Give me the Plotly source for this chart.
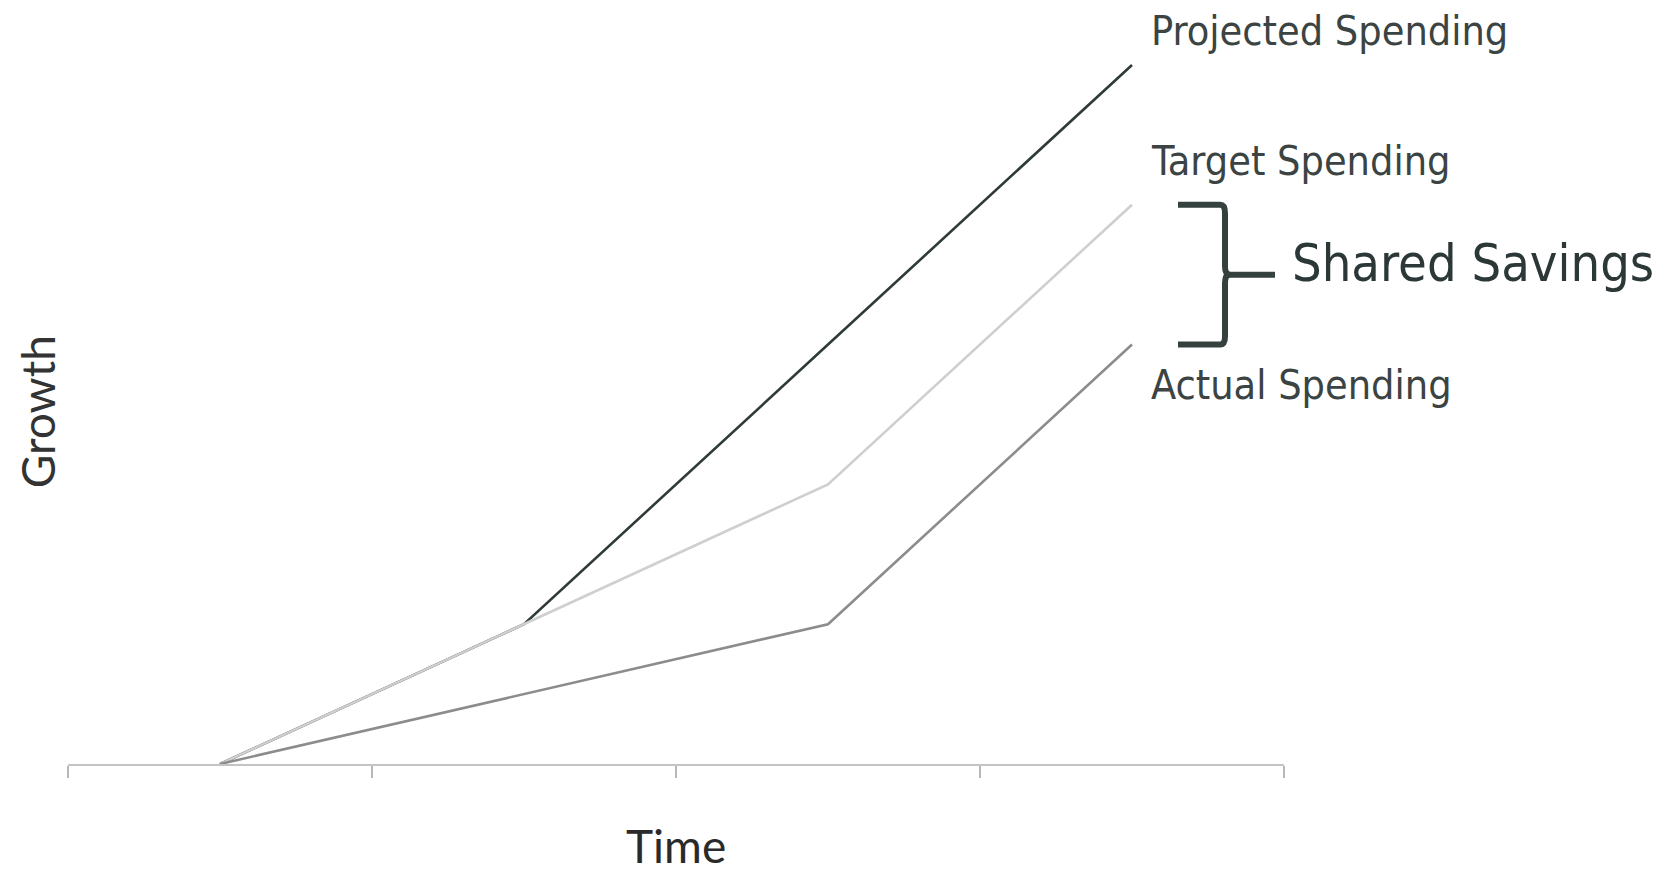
import plotly.graph_objects as go

# Time periods and spending growth for each series
periods = [1, 2, 3, 4]
projected = [0, 2, 6, 10]
target = [0, 2, 4, 8]
actual = [0, 1, 2, 6]

series_names = ["Projected Spending", "Target Spending", "Actual Spending"]
series_colors = ["#2f3b3a", "#cfcfcf", "#8c8c8c"]
label_shift = [34, 44, -40]

W, H = 1679, 874
L_M, R_M, T_M, B_M = 68, 395, 9, 110
Y_MAX = 10.8

LABEL_FONT = "DejaVu Sans Condensed, DejaVu Sans, sans-serif"
AXIS_FONT = "Lato, Open Sans, sans-serif"
TEXT_COLOR = "#3b4443"

fig = go.Figure()
for name, vals, color in zip(series_names, [projected, target, actual], series_colors):
    fig.add_trace(go.Scatter(
        x=periods, y=vals, mode="lines", name=name,
        line=dict(color=color, width=2.6), hoverinfo="skip",
    ))

annotations = []
for name, vals, dy in zip(series_names, [projected, target, actual], label_shift):
    annotations.append(dict(
        x=periods[-1], y=vals[-1], xref="x", yref="y",
        text=name, showarrow=False, xanchor="left", yanchor="middle",
        xshift=17, yshift=dy,
        font=dict(family=LABEL_FONT, size=41, color=TEXT_COLOR),
    ))

# Bracket spanning the gap between target and actual at the last period
plot_w = W - L_M - R_M


def px_to_paper(px):
    return (px - L_M) / plot_w


top, bot = target[-1], actual[-1]
mid = (top + bot) / 2
xl, xv, xs = px_to_paper(1178), px_to_paper(1225), px_to_paper(1275)
r = 0.004
dyc = 0.12
bracket = (f"M {xl},{top} L {xv - r},{top} Q {xv},{top} {xv},{top - dyc} "
           f"L {xv},{mid + dyc} Q {xv},{mid} {xv + r},{mid} "
           f"Q {xv},{mid} {xv},{mid - dyc} "
           f"L {xv},{bot + dyc} Q {xv},{bot} {xv - r},{bot} L {xl},{bot}")
stub = f"M {xv},{mid} L {xs},{mid}"

shapes = [
    dict(type="path", path=bracket, xref="paper", yref="y",
         line=dict(color="#34413f", width=6)),
    dict(type="path", path=stub, xref="paper", yref="y",
         line=dict(color="#34413f", width=6)),
]

annotations.append(dict(
    x=px_to_paper(1290), y=mid, xref="paper", yref="y",
    text="Shared Savings", showarrow=False, xanchor="left", yanchor="middle",
    yshift=12,
    font=dict(family=LABEL_FONT, size=52, color="#2c3837"),
))

# Axis titles
annotations.append(dict(
    x=0.5, y=0, xref="paper", yref="paper", text="Time", showarrow=False,
    xanchor="center", yanchor="bottom", yshift=-110, borderpad=0,
    font=dict(family=AXIS_FONT, size=46, color="#2a2a2a"),
))
annotations.append(dict(
    x=0, y=0.466, xref="paper", yref="paper", text="Growth", showarrow=False,
    textangle=-90, xanchor="center", yanchor="middle", xshift=-31,
    font=dict(family=AXIS_FONT, size=46, color="#333333"),
))

fig.update_layout(
    width=W, height=H,
    margin=dict(l=L_M, r=R_M, t=T_M, b=B_M),
    paper_bgcolor="white", plot_bgcolor="white",
    showlegend=False,
    shapes=shapes, annotations=annotations,
    xaxis=dict(
        range=[0.5, 4.5], showgrid=False, zeroline=False,
        showline=True, linecolor="#c4c4c4", linewidth=2,
        tickmode="array", tickvals=[0.5, 1.5, 2.5, 3.5, 4.5],
        ticks="outside", ticklen=12, tickwidth=1.5, tickcolor="#b8b8b8",
        showticklabels=False,
    ),
    yaxis=dict(
        range=[0, Y_MAX], showgrid=False, zeroline=False,
        showline=False, showticklabels=False, ticks="",
    ),
)

fig.write_html("out.html")
